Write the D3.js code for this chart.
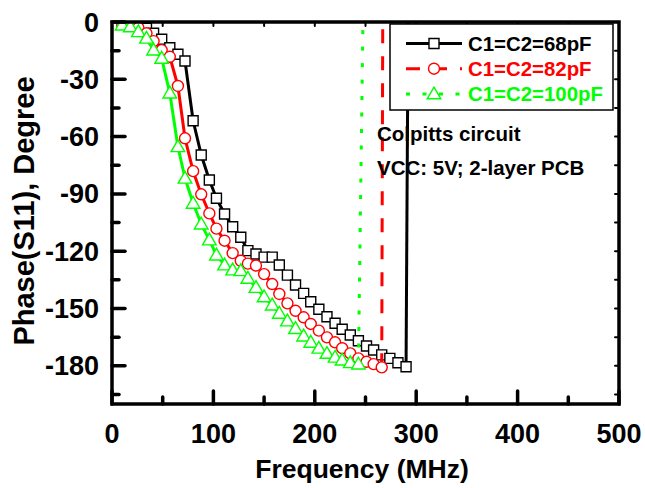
<!DOCTYPE html>
<html><head><meta charset="utf-8">
<script src="https://cdn.jsdelivr.net/npm/d3@7"></script>
<style>body{margin:0;background:#fff} svg{display:block}</style>
</head><body><svg id="c" width="645" height="488"></svg>
<script>
// ---- data ----
const freq = [10,18,26,34,41,49,57,65,72,80,88,96,103,111,119,127,134,142,150,158,165,173,181,189,196,204,212,220,227,235,243,251,258,266,274,282,290];
const phase68 = [-0.3,-0.8,-1.8,-3.3,-5.9,-9,-13.5,-16.9,-20.4,-51.7,-69.6,-82.7,-92.3,-100.5,-107.2,-112.7,-119.7,-121.5,-123.1,-123.1,-127.2,-132.5,-137.7,-142.1,-146.5,-150.4,-154.3,-157.7,-160.9,-163.9,-166.9,-169.6,-171.7,-174.3,-176.1,-178.4,-180.5];
const phase82 = [-0.5,-1.5,-3,-5.9,-10,-14.7,-18.2,-33.5,-60.9,-78.1,-90.2,-100.2,-108.2,-114.5,-121,-125,-126.5,-127.5,-132,-137.2,-142.4,-147.3,-151.2,-154.6,-158.1,-161.6,-165.1,-167.7,-170.8,-173.5,-176.1,-177.9,-179.1,-180.8];
const phase100 = [-1.6,-2.5,-5.1,-8.5,-14.7,-19,-37.2,-65.3,-81.8,-94.9,-105.8,-114.1,-122,-127.2,-129.8,-130.2,-134.2,-139,-143.9,-148.2,-152.5,-156.5,-160.5,-164.4,-167.7,-170.8,-173.5,-175.5,-177,-178.4,-179.1];
const wrapFreq = [294, 268, 252];          // phase wraps to +180 here
const wrapPhase = [180, 180, 180];
const seriesNames = ["C1=C2=68pF","C1=C2=82pF","C1=C2=100pF"];
const xTicks = [0,100,200,300,400,500];
const yTicks = [0,-30,-60,-90,-120,-150,-180];
const notes = ["Colpitts circuit","VCC: 5V; 2-layer PCB"];

// ---- setup ----
const svg = d3.select("#c");
const L=112, R=619, T=22, B=404;
const x = d3.scaleLinear().domain([0,500]).range([L,R]);
const y = d3.scaleLinear().domain([-200,0]).range([B,T]);
const FONT = "'Liberation Sans', Arial, sans-serif";

const colors = ["#000000","#ff0000","#00ff00"];
const dashes = [null,"14,13","4,12.5"];
const symbols = [d3.symbolSquare, d3.symbolCircle, d3.symbolTriangle];
const symSize = [100, 95, 80];
const phases = [phase68, phase82, phase100];

svg.append("clipPath").attr("id","clip").append("rect")
  .attr("x",L).attr("y",T).attr("width",R-L).attr("height",B-T);

const gData = svg.append("g").attr("clip-path","url(#clip)");
const line = d3.line().x(d=>x(d[0])).y(d=>y(d[1]));

phases.forEach((ph,i)=>{
  const pts = ph.map((v,k)=>[freq[k],v]);
  const g = gData.append("g");
  g.append("path").attr("d",line(pts)).attr("fill","none")
    .attr("stroke",colors[i]).attr("stroke-width",3).attr("stroke-linejoin","round");
  const last = pts[pts.length-1];
  g.append("path").attr("d",line([last,[wrapFreq[i],wrapPhase[i]]])).attr("fill","none")
    .attr("stroke",colors[i]).attr("stroke-width",3)
    .attr("stroke-dasharray",dashes[i]);
  g.selectAll("path.m").data(pts).join("path").attr("class","m")
    .attr("d",d3.symbol().type(symbols[i]).size(symSize[i]))
    .attr("transform",d=>`translate(${x(d[0])},${y(d[1]) + (i===2?1:0)})`)
    .attr("fill","#fff").attr("stroke",colors[i]).attr("stroke-width",1.4);
});

// ---- axes / frame ----
const gA = svg.append("g").attr("stroke","#000").attr("stroke-linecap","round");
d3.range(0,501,50).forEach(v=>{
  const major = v%100===0;
  gA.append("line").attr("x1",x(v)).attr("x2",x(v)).attr("y1",B).attr("y2",B-(major?13:7)).attr("stroke-width",3.5);
  gA.append("line").attr("x1",x(v)).attr("x2",x(v)).attr("y1",T).attr("y2",T+4).attr("stroke-width",2);
});
d3.range(0,-201,-15).forEach(v=>{
  const major = v%30===0;
  gA.append("line").attr("x1",L).attr("x2",L+(major?13:7)).attr("y1",y(v)).attr("y2",y(v)).attr("stroke-width",3.5);
  gA.append("line").attr("x1",R).attr("x2",R-4).attr("y1",y(v)).attr("y2",y(v)).attr("stroke-width",2);
});
svg.append("rect").attr("x",L).attr("y",T).attr("width",R-L).attr("height",B-T)
  .attr("fill","none").attr("stroke","#000").attr("stroke-width",3.5);

// tick labels
svg.append("g").selectAll("text").data(xTicks).join("text")
  .attr("x",d=>x(d)).attr("y",443).attr("text-anchor","middle")
  .attr("font-family",FONT).attr("font-weight","bold").attr("font-size",27).text(d=>d);
svg.append("g").selectAll("text").data(yTicks).join("text")
  .attr("x",99).attr("y",d=>y(d)+9.5).attr("text-anchor","end")
  .attr("font-family",FONT).attr("font-weight","bold").attr("font-size",27).text(d=>d);

// axis titles
svg.append("text").attr("x",362).attr("y",478).attr("text-anchor","middle")
  .attr("font-family",FONT).attr("font-weight","bold").attr("font-size",26.5).text("Frequency (MHz)");
svg.append("text").attr("transform","translate(34,211) rotate(-90)").attr("text-anchor","middle")
  .attr("font-family",FONT).attr("font-weight","bold").attr("font-size",29).text("Phase(S11), Degree");

// annotations
notes.forEach((t,k)=>{
  svg.append("text").attr("x",377).attr("y",141+k*34)
    .attr("font-family",FONT).attr("font-weight","bold").attr("font-size",20.5).text(t);
});

// legend
const lg = svg.append("g");
lg.append("rect").attr("x",390).attr("y",24).attr("width",223).attr("height",86)
  .attr("fill","#fff").attr("stroke","#000").attr("stroke-width",1.5);
seriesNames.forEach((n,i)=>{
  const cy = 43.5 + i*25.2;
  lg.append("line").attr("x1",406).attr("x2",462).attr("y1",cy).attr("y2",cy)
    .attr("stroke",colors[i]).attr("stroke-width",3).attr("stroke-dasharray",dashes[i]);
  lg.append("path").attr("d",d3.symbol().type(symbols[i]).size(symSize[i])())
    .attr("transform",`translate(434,${cy + (i===2?1:0)})`)
    .attr("fill","#fff").attr("stroke",colors[i]).attr("stroke-width",1.4);
  lg.append("text").attr("x",468).attr("y",cy+7.5).attr("fill",colors[i])
    .attr("font-family",FONT).attr("font-weight","bold").attr("font-size",20.4).text(n);
});
</script>
</body></html>
